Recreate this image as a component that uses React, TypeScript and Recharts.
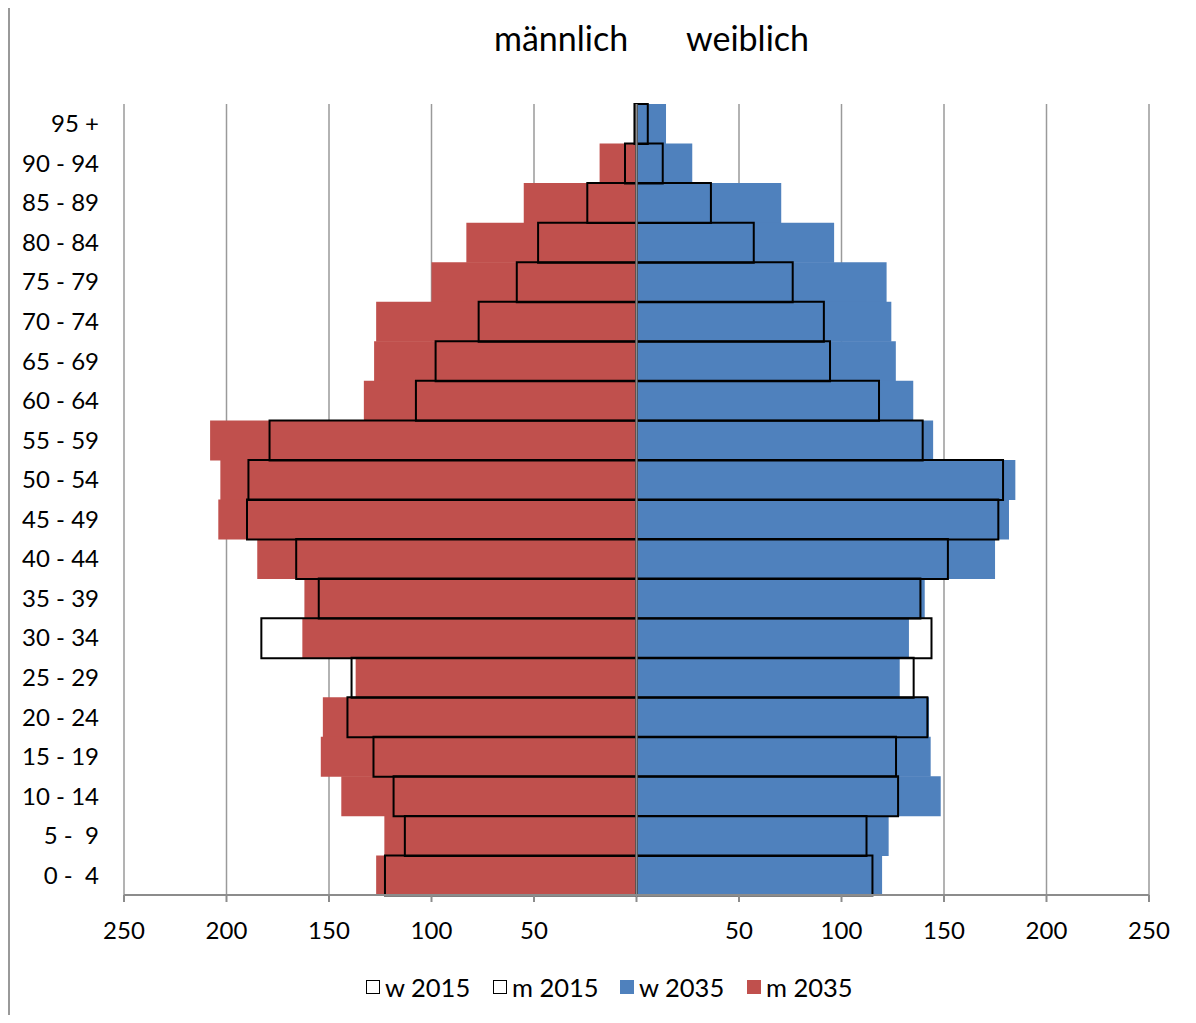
import React from 'react';
import { BarChart, Bar, XAxis, YAxis, CartesianGrid, ReferenceLine } from 'recharts';

const ages = ["95 +","90 - 94","85 - 89","80 - 84","75 - 79","70 - 74","65 - 69","60 - 64","55 - 59","50 - 54","45 - 49","40 - 44","35 - 39","30 - 34","25 - 29","20 - 24","15 - 19","10 - 14","5 -\u00A0\u00A09","0 -\u00A0\u00A04"];
const m2035 = [1, 18, 55, 83, 100, 127, 128, 133, 208, 203, 204, 185, 162, 163, 137, 153, 154, 144, 123, 127];
const m2015 = [1, 5.6, 24, 48, 58.4, 77, 98, 107.6, 179, 189.3, 190, 166, 155, 183, 139, 141, 128.3, 118.5, 113, 122.7];
const w2035 = [14.4, 27.2, 70.6, 96.4, 122, 124.3, 126.5, 135, 144.7, 184.8, 181.7, 174.9, 140.6, 132.9, 128.4, 142.7, 143.5, 148.4, 123, 119.8];
const w2015 = [5.5, 12.8, 36.3, 57.2, 76.2, 91.4, 94.4, 118.3, 139.6, 178.8, 176.5, 151.9, 138.5, 143.9, 135.2, 141.9, 126.6, 127.6, 112.2, 115.1];
const xTicks = [-250, -200, -150, -100, -50, 0, 50, 100, 150, 200, 250];

const RED = '#C0504D';
const BLUE = '#4F81BD';
const FONT = 'Lato, "Open Sans", sans-serif';

const data = ages.map((age, i) => ({
  age,
  m2035: -m2035[i],
  w2035: w2035[i],
  m2015: -m2015[i],
  w2015: w2015[i],
}));

const legendItems = [
  { label: 'w 2015', fill: '#fff', stroke: '#000' },
  { label: 'm 2015', fill: '#fff', stroke: '#000' },
  { label: 'w 2035', fill: BLUE, stroke: BLUE },
  { label: 'm 2035', fill: RED, stroke: RED },
];

export default function App() {
  return (
    <div style={{ position: 'relative', width: 1196, height: 1015, marginTop: -8, marginLeft: -8, overflow: 'hidden', fontFamily: FONT, background: '#fff' }}>
      <div style={{ position: 'absolute', left: 8, top: 6, right: -4, bottom: -10, borderLeft: '2px solid #999', borderTop: '2px solid #999' }} />
      <div style={{ position: 'absolute', left: 494, top: 18, fontSize: 34, lineHeight: '40px', color: '#000', whiteSpace: 'nowrap' }}>männlich</div>
      <div style={{ position: 'absolute', left: 686, top: 18, fontSize: 34, lineHeight: '40px', color: '#000', whiteSpace: 'nowrap' }}>weiblich</div>
      <div style={{ position: 'absolute', left: 0, top: 0 }}>
        <BarChart
          width={1196}
          height={1015}
          data={data}
          layout="vertical"
          stackOffset="sign"
          barCategoryGap={0}
          barGap={0}
          margin={{ top: 104, right: 47, bottom: 80, left: 14 }}
        >
          <CartesianGrid horizontal={false} vertical={true} stroke="#9a9a9a" strokeWidth={1.5} />
          <XAxis
            type="number"
            domain={[-250, 250]}
            ticks={xTicks}
            allowDataOverflow
            tickFormatter={(v: number) => (v === 0 ? '' : String(Math.abs(v)))}
            stroke="#8c8c8c"
            strokeWidth={2}
            tickSize={7}
            tickMargin={20}
            height={40}
            tick={{ fill: '#000', fontSize: 24, fontFamily: FONT }}
          />
          <YAxis
            yAxisId="a"
            type="category"
            dataKey="age"
            width={110}
            axisLine={false}
            tickLine={false}
            tickSize={0}
            tickMargin={25}
            interval={0}
            tick={{ fill: '#000', fontSize: 24, fontFamily: FONT }}
          />
          <YAxis yAxisId="b" type="category" dataKey="age" hide />
          <Bar yAxisId="a" dataKey="m2035" stackId="s35" fill={RED} isAnimationActive={false} />
          <Bar yAxisId="a" dataKey="w2035" stackId="s35" fill={BLUE} isAnimationActive={false} />
          <Bar yAxisId="b" dataKey="m2015" stackId="s15" fill="none" stroke="#000" strokeWidth={2} isAnimationActive={false} />
          <Bar yAxisId="b" dataKey="w2015" stackId="s15" fill="none" stroke="#000" strokeWidth={2} isAnimationActive={false} />
          <ReferenceLine yAxisId="a" x={0} stroke="#8c8c8c" strokeWidth={2} />
        </BarChart>
      </div>
      <div style={{ position: 'absolute', left: 366, top: 970, height: 34, display: 'flex', alignItems: 'center' }}>
        {legendItems.map((it) => (
          <div key={it.label} style={{ display: 'flex', alignItems: 'center', width: 127, fontSize: 25.5, color: '#000', whiteSpace: 'nowrap' }}>
            <span style={{ display: 'inline-block', width: 14, height: 14, boxSizing: 'border-box', background: it.fill, border: `1.5px solid ${it.stroke}`, marginRight: 5 }} />
            <span>{it.label}</span>
          </div>
        ))}
      </div>
    </div>
  );
}
